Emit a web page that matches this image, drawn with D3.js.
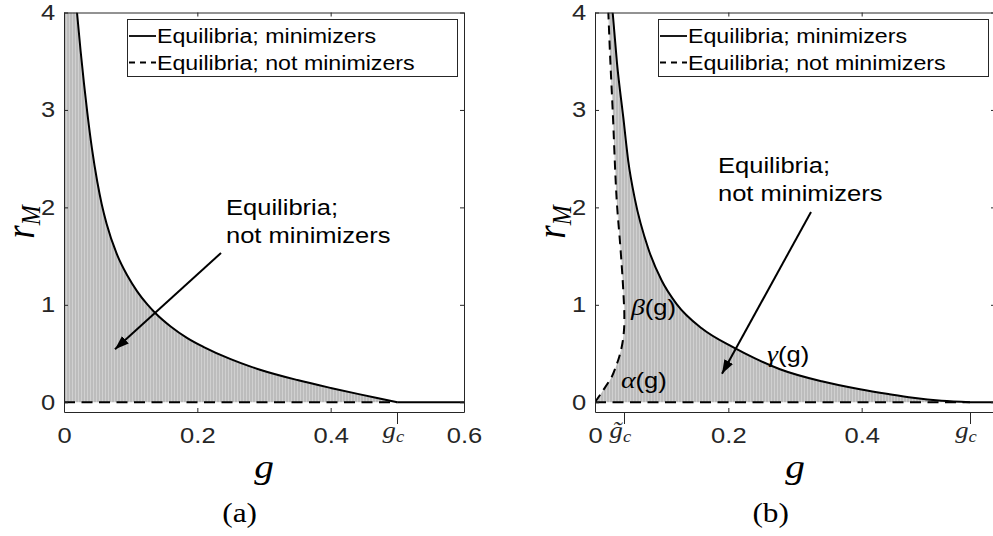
<!DOCTYPE html>
<html>
<head>
<meta charset="utf-8">
<script src="https://cdn.jsdelivr.net/npm/d3@7"></script>
<style>
  body { margin: 0; background: #fff; }
</style>
</head>
<body>
<div id="chart"></div>
<script>
// values: g on x, r_M on y
var xTickVals = [0, 0.2, 0.4, 0.6];
var yTickVals = [0, 1, 2, 3, 4];

// panel (a): upper boundary gamma(g)
var gammaA_g = [0.0195, 0.025, 0.030, 0.035, 0.042, 0.050, 0.0565, 0.064, 0.079, 0.095, 0.110, 0.125, 0.1365, 0.160, 0.185, 0.209, 0.250, 0.279, 0.294, 0.350, 0.400, 0.444, 0.475, 0.500];
var gammaA_r = [4.00, 3.60, 3.27, 2.97, 2.60, 2.26, 2.035, 1.83, 1.525, 1.30, 1.136, 1.004, 0.919, 0.778, 0.659, 0.569, 0.442, 0.368, 0.334, 0.228, 0.147, 0.081, 0.036, 0];

// panel (b): gamma(g) and the alpha/beta branch
var gammaB_g = [0.0265, 0.033, 0.0425, 0.050, 0.060, 0.080, 0.100, 0.1225, 0.160, 0.207, 0.240, 0.2775, 0.340, 0.3975, 0.440, 0.477, 0.520, 0.5625];
var gammaB_r = [4.00, 3.48, 2.92, 2.47, 2.08, 1.575, 1.25, 1.008, 0.759, 0.565, 0.45, 0.339, 0.215, 0.133, 0.084, 0.046, 0.0154, 0];
var alphaBeta_g = [0, 0.0125, 0.025, 0.031, 0.0365, 0.041, 0.0435, 0.044, 0.0435, 0.0415, 0.038, 0.0325, 0.0265, 0.023, 0.020];
var alphaBeta_r = [0, 0.126, 0.26, 0.36, 0.47, 0.60, 0.74, 0.90, 1.00, 1.256, 1.60, 2.08, 3.00, 3.50, 4.00];

var gcA = 0.5, gcB = 0.5625, gTildeB = 0.044;
var legendLabels = ["Equilibria; minimizers", "Equilibria; not minimizers"];
var noteLines = ["Equilibria;", "not minimizers"];

// annotation anchors in data units [g, r]
var noteA = [0.243, 1.923], arrowA = [[0.2355, 1.532], [0.0765, 0.545]];
var noteB = [0.1845, 2.353], arrowB = [[0.324, 1.953], [0.1905, 0.292]];

var SX = 1.16; // the figure was stretched sideways
var SANS = "'Liberation Sans', Arial, sans-serif";
var SERIF = "'Liberation Serif', 'DejaVu Serif', serif";
var AX = "#262626";

var svg = d3.select("#chart")
  .append("svg")
    .attr("width", 993)
    .attr("height", 536);

var defs = svg.append("defs");

// vertical line texture of the shaded region
var pat = defs.append("pattern")
    .attr("id", "shade")
    .attr("patternUnits", "userSpaceOnUse")
    .attr("width", 3).attr("height", 10);
pat.append("rect").attr("width", 3).attr("height", 10).attr("fill", "#bcbcbc");
pat.append("rect").attr("width", 1).attr("height", 10).attr("fill", "#d0d0d0");

defs.append("marker")
    .attr("id", "arrow")
    .attr("viewBox", "0 0 14 10")
    .attr("refX", 14).attr("refY", 5)
    .attr("markerWidth", 14).attr("markerHeight", 10)
    .attr("markerUnits", "userSpaceOnUse")
    .attr("orient", "auto")
  .append("path")
    .attr("d", "M0,0L14,5L0,10Z")
    .attr("fill", "#000");

function txt(sel, x, y, size, family, anchor) {
  return sel.append("text")
    .attr("transform", "translate(" + x + "," + y + ") scale(" + SX + ",1)")
    .attr("text-anchor", anchor || "start")
    .style("font-family", family)
    .style("font-size", size + "px");
}

function zip(gs, rs) {
  return gs.map(function (d, i) { return [d, rs[i]]; });
}

function panel(p) {
  var x = d3.scaleLinear().domain([0, 0.6]).range([p.left, p.left + 400]);
  var y = d3.scaleLinear().domain([-0.1, 4]).range([412, 12.5]);
  var line = d3.line()
    .x(function (d) { return x(d[0]); })
    .y(function (d) { return y(d[1]); });
  var mono = d3.line()
    .x(function (d) { return x(d[0]); })
    .y(function (d) { return y(d[1]); })
    .curve(d3.curveMonotoneX);
  var smooth = d3.line()
    .x(function (d) { return x(d[0]); })
    .y(function (d) { return y(d[1]); })
    .curve(d3.curveCatmullRom);

  defs.append("clipPath").attr("id", "clip" + p.name)
    .append("rect")
      .attr("x", x(0)).attr("y", y(4))
      .attr("width", x(0.6) - x(0)).attr("height", y(-0.1) - y(4));

  var plot = svg.append("g").attr("clip-path", "url(#clip" + p.name + ")");

  // shaded region: left edge, over the top, down along gamma
  var g0 = p.gamma[0][0];
  var leftEdge = p.branch ? smooth(p.branch) : line([[0, 0], [0, 4.3]]);
  var lastG = p.branch ? p.branch[p.branch.length - 1][0] : 0;
  plot.append("path")
    .attr("d", leftEdge + line([[lastG, 4.3], [g0, 4.3]]).replace("M", "L") +
               mono(p.gamma).replace("M", "L") + "Z")
    .attr("fill", "url(#shade)");

  // zero line: dashed up to gc, solid after
  plot.append("path")
    .attr("d", line([[0, 0], [p.gc, 0]]))
    .attr("stroke", "#000").attr("stroke-width", 2)
    .attr("stroke-dasharray", "11,6.5").attr("fill", "none");
  plot.append("path")
    .attr("d", line([[p.gc, 0], [0.6, 0]]))
    .attr("stroke", "#000").attr("stroke-width", 2).attr("fill", "none");

  plot.append("path")
    .attr("d", mono(p.gamma))
    .attr("stroke", "#000").attr("stroke-width", 2).attr("fill", "none");

  if (p.branch) {
    plot.append("path")
      .attr("d", smooth(p.branch))
      .attr("stroke", "#000").attr("stroke-width", 2)
      .attr("stroke-dasharray", "9,6").attr("fill", "none");
  }

  // axes box with inward ticks
  var fmt = function (d) { return p.xLabels.indexOf(d) >= 0 ? d3.format("")(d) : ""; };
  var bottom = svg.append("g")
    .attr("transform", "translate(0," + y(-0.1) + ")")
    .attr("color", AX)
    .call(d3.axisBottom(x).tickValues(xTickVals).tickFormat(fmt).tickSize(-4).tickSizeOuter(0).tickPadding(15));
  var left = svg.append("g")
    .attr("transform", "translate(" + x(0) + ",0)")
    .attr("color", AX)
    .call(d3.axisLeft(y).tickValues(yTickVals).tickFormat(d3.format("d")).tickSize(-4).tickSizeOuter(0).tickPadding(7.5));
  svg.append("g")
    .attr("transform", "translate(0," + y(4) + ")")
    .attr("color", AX)
    .call(d3.axisTop(x).tickValues(xTickVals).tickFormat("").tickSize(-4).tickSizeOuter(0));
  svg.append("g")
    .attr("transform", "translate(" + x(0.6) + ",0)")
    .attr("color", AX)
    .call(d3.axisRight(y).tickValues(yTickVals).tickFormat("").tickSize(-4).tickSizeOuter(0));

  [bottom, left].forEach(function (a) {
    a.selectAll("text")
      .attr("transform", "scale(" + SX + ",1)")
      .style("font-family", SANS)
      .style("font-size", "22px")
      .attr("fill", AX);
  });

  // special ticks below the axis
  p.specials.forEach(function (s) {
    svg.append("line")
      .attr("x1", Math.round(x(s.g)) + 0.5).attr("x2", Math.round(x(s.g)) + 0.5)
      .attr("y1", y(-0.1)).attr("y2", y(-0.1) + 12)
      .attr("stroke", AX).attr("stroke-width", 1);
    var t = txt(svg, x(s.g) - 4, 438, 23, SERIF, "middle").attr("fill", AX);
    t.append("tspan").style("font-style", "italic").text(s.tilde ? "g\u0303" : "g");
    t.append("tspan").style("font-style", "italic").style("font-size", "16px").attr("dy", 4).text("c");
  });

  // legend
  var lg = svg.append("g");
  lg.append("rect")
    .attr("x", x(0) + 63.5).attr("y", 19.5)
    .attr("width", 330).attr("height", 57)
    .attr("fill", "#fff").attr("stroke", AX).attr("stroke-width", 1);
  [36, 62.5].forEach(function (ly, i) {
    lg.append("line")
      .attr("x1", x(0) + 65).attr("x2", x(0) + 92)
      .attr("y1", ly).attr("y2", ly)
      .attr("stroke", "#000").attr("stroke-width", 1.8)
      .attr("stroke-dasharray", i ? "6,5" : null);
    txt(lg, x(0) + 93, ly + 7.3, 20, SANS).attr("fill", "#000").text(legendLabels[i]);
  });

  // annotation and arrow
  noteLines.forEach(function (s, i) {
    txt(svg, x(p.note[0]), y(p.note[1]) + i * 28.5, 22, SANS).attr("fill", "#000").text(s);
  });
  svg.append("path")
    .attr("d", line(p.arrow))
    .attr("stroke", "#000").attr("stroke-width", 2)
    .attr("marker-end", "url(#arrow)");

  // axis labels and caption
  txt(svg, x(0.3), 478, 34, SERIF, "middle").style("font-style", "italic").text("g");
  var yl = svg.append("text")
    .attr("transform", "translate(" + (x(0) - 30) + "," + y(1.85) + ") scale(" + SX + ",1) rotate(-90)")
    .attr("text-anchor", "middle")
    .style("font-family", SERIF).style("font-size", "34px").style("font-style", "italic");
  yl.append("tspan").text("r");
  yl.append("tspan").style("font-size", "24px").attr("dy", 5).text("M");
  txt(svg, x(0.2635), 522, 27, SERIF, "middle").text(p.caption);

  if (p.greek) {
    p.greek.forEach(function (gk) {
      var t = txt(svg, x(gk.at[0]), y(gk.at[1]), 22, SANS).attr("fill", "#000");
      t.append("tspan").style("font-family", SERIF).style("font-style", "italic").style("font-size", "24px").text(gk.sym);
      t.append("tspan").text("(g)");
    });
  }
}

// panel (a)
panel({
  name: "a", left: 64, gc: gcA, caption: "(a)",
  xLabels: [0, 0.2, 0.4, 0.6],
  gamma: zip(gammaA_g, gammaA_r),
  specials: [{g: gcA}],
  note: noteA, arrow: arrowA
});

// panel (b)
panel({
  name: "b", left: 595, gc: gcB, caption: "(b)",
  xLabels: [0, 0.2, 0.4],
  gamma: zip(gammaB_g, gammaB_r),
  branch: zip(alphaBeta_g, alphaBeta_r),
  specials: [{g: gTildeB, tilde: true}, {g: gcB}],
  note: noteB, arrow: arrowB,
  greek: [
    {sym: "\u03b2", at: [0.054, 0.897]},
    {sym: "\u03b1", at: [0.039, 0.147]},
    {sym: "\u03b3", at: [0.258, 0.414]}
  ]
});
</script>
</body>
</html>
